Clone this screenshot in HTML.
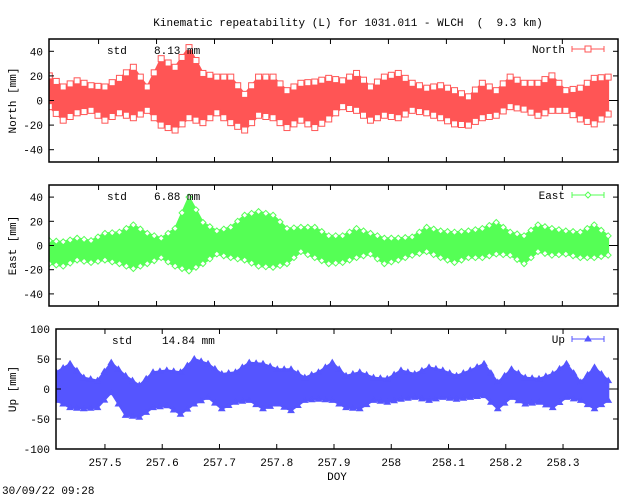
<!DOCTYPE html>
<html><head><meta charset="utf-8">
<style>
html,body{margin:0;padding:0;background:#fff;width:640px;height:496px;overflow:hidden}
svg text{font-family:"Liberation Mono","DejaVu Sans Mono",monospace;font-size:11px;fill:#000}
</style></head>
<body>
<svg id="chart" width="640" height="496" viewBox="0 0 640 496" xmlns="http://www.w3.org/2000/svg">
<defs id="defs"></defs>
<text x="348" y="26" text-anchor="middle" xml:space="preserve">Kinematic repeatability (L) for 1031.011 - WLCH  (  9.3 km)</text>
<text x="2" y="494">30/09/22 09:28</text>
<text x="337" y="480" text-anchor="middle">DOY</text>
<g id="plots"></g>
</svg>
<script>
const times=[257.415,257.439,257.463,257.487,257.511,257.536,257.560,257.584,257.608,257.632,257.656,257.680,257.704,257.728,257.752,257.776,257.801,257.825,257.849,257.873,257.897,257.921,257.945,257.969,257.993,258.017,258.041,258.066,258.090,258.114,258.138,258.162,258.186,258.210,258.234,258.258,258.282,258.306,258.331,258.355,258.379];
const northHi=[20,11,16,12,11,18,27,11,34,27,43,22,19,19,5,19,19,8,14,15,18,16,22,11,19,22,14,10,12,8,3,14,8,19,14,14,20,8,10,18,19];
const northLo=[-5,-16,-10,-8,-16,-10,-14,-8,-20,-24,-14,-18,-10,-18,-24,-12,-14,-22,-16,-22,-15,-5,-8,-16,-12,-14,-8,-10,-14,-19,-20,-14,-12,-5,-7,-12,-8,-8,-15,-19,-11];
const eastHi=[4,3,6,4,10,11,17,10,6,14,40,19,12,15,25,28,25,14,15,15,8,8,14,10,6,6,7,15,12,11,12,14,19,11,8,17,14,12,11,17,8];
const eastLo=[-15,-17,-12,-14,-12,-15,-19,-15,-10,-17,-21,-15,-7,-10,-12,-17,-18,-15,-5,-10,-15,-14,-10,-7,-15,-12,-8,-5,-10,-14,-10,-10,-7,-8,-15,-5,-8,-7,-10,-10,-8];
const upHi=[28,42,19,14,44,22,6,28,31,28,50,42,25,28,44,42,33,33,19,28,44,22,28,19,17,31,25,36,31,22,31,42,11,33,19,17,25,42,11,36,14];
const upLo=[-19,-31,-33,-31,-6,-44,-47,-31,-28,-42,-25,-14,-33,-22,-19,-33,-25,-36,-19,-17,-19,-31,-33,-19,-22,-17,-14,-19,-14,-17,-14,-11,-33,-14,-25,-22,-31,-14,-19,-33,-19];
const xTicks=[257.5,257.6,257.7,257.8,257.9,258,258.1,258.2,258.3];
const xTickLabels=["257.5","257.6","257.7","257.8","257.9","258","258.1","258.2","258.3"];
const nTicks=[40,20,0,-20,-40];
const eTicks=[40,20,0,-20,-40];
const uTicks=[100,50,0,-50,-100];
const stdValues=["8.13","6.88","14.84"];

const NS='http://www.w3.org/2000/svg';
const root=document.getElementById('plots');
const defs=document.getElementById('defs');
function mk(tag,attrs,parent){const e=document.createElementNS(NS,tag);for(const k in attrs)e.setAttribute(k,attrs[k]);(parent||root).appendChild(e);return e;}

const panels=[
 {key:'north',label:'North [mm]',left:49,right:618,top:39,bottom:162,ymin:-50,ymax:50,ticks:nTicks,hi:northHi,lo:northLo,color:'#ff5555',marker:'square',std:stdValues[0],stdX:107,numX:154,legend:'North',xlabels:false},
 {key:'east',label:'East [mm]',left:49,right:618,top:185,bottom:306,ymin:-50,ymax:50,ticks:eTicks,hi:eastHi,lo:eastLo,color:'#55ff55',marker:'diamond',std:stdValues[1],stdX:107,numX:154,legend:'East',xlabels:false},
 {key:'up',label:'Up [mm]',left:56,right:618,top:329,bottom:449,ymin:-100,ymax:100,ticks:uTicks,hi:upHi,lo:upLo,color:'#5555ff',marker:'triangle',std:stdValues[2],stdX:112,numX:162,legend:'Up',xlabels:true}
];
const X0=257.4145,X1=258.396;

function drawMarker(g,type,x,y,color){
 let m;
 if(type==='square'){m=mk('rect',{x:x-3,y:y-3,width:6,height:6,fill:'#fff',stroke:color,'stroke-width':1},g);}
 else if(type==='diamond'){m=mk('path',{d:`M${x},${y-3}L${x+3},${y}L${x},${y+3}L${x-3},${y}Z`,fill:'#fff',stroke:color,'stroke-width':1},g);}
 else {m=mk('path',{d:`M${x},${y-3}L${x+3},${y+2}L${x-3},${y+2}Z`,fill:color,stroke:color,'stroke-width':1},g);}
 
 
}

panels.forEach(p=>{
 const g=mk('g',{});
 
 
 const cp=mk('clipPath',{id:'clip-'+p.key},defs);
 mk('rect',{x:p.left,y:p.top,width:p.right-p.left,height:p.bottom-p.top},cp);
 const xs=t=>p.left+(t-X0)/(X1-X0)*(p.right-p.left);
 const ys=v=>p.bottom-(v-p.ymin)/(p.ymax-p.ymin)*(p.bottom-p.top);
 const z=mk('line',{x1:p.left,x2:p.right,y1:ys(0),y2:ys(0),stroke:'#000','stroke-width':1,'stroke-dasharray':'4,3'},g);
 
 
 const dg=mk('g',{'clip-path':'url(#clip-'+p.key+')'},g);
 
 
 let d='';
 times.forEach((t,i)=>{d+=(i?'L':'M')+xs(t).toFixed(1)+','+ys(p.hi[i]).toFixed(1);});
 for(let i=times.length-1;i>=0;i--){d+='L'+xs(times[i]).toFixed(1)+','+ys(p.lo[i]).toFixed(1);}
 d+='Z';
 const band=mk('path',{d:d,fill:p.color,stroke:p.color,'stroke-width':2,'stroke-linejoin':'round'},dg);
 
 
 times.forEach((t,i)=>{
  drawMarker(dg,p.marker,xs(t),ys(p.hi[i]),p.color);
  drawMarker(dg,p.marker,xs(t),ys(p.lo[i]),p.color);
  if(i<times.length-1){
   const tm=(t+times[i+1])/2;
   drawMarker(dg,p.marker,xs(tm),ys((p.hi[i]+p.hi[i+1])/2),p.color);
   drawMarker(dg,p.marker,xs(tm),ys((p.lo[i]+p.lo[i+1])/2),p.color);
  }
 });
 const f=mk('rect',{x:p.left,y:p.top,width:p.right-p.left,height:p.bottom-p.top,fill:'none',stroke:'#000','stroke-width':1.5},g);
 
 
 p.ticks.forEach(v=>{
  const y=ys(v);
  mk('line',{x1:p.left,x2:p.left+5,y1:y,y2:y,stroke:'#000'},g);
  mk('line',{x1:p.right-5,x2:p.right,y1:y,y2:y,stroke:'#000'},g);
  const tl=mk('text',{x:p.left-6,y:y+4,'text-anchor':'end'},g);
  tl.textContent=String(v);
  
  
 });
 xTicks.forEach((t,i)=>{
  const x=xs(t);
  mk('line',{x1:x,x2:x,y1:p.bottom-5,y2:p.bottom,stroke:'#000'},g);
  mk('line',{x1:x,x2:x,y1:p.top,y2:p.top+5,stroke:'#000'},g);
  if(p.xlabels){
   const xl=mk('text',{x:x,y:p.bottom+17,'text-anchor':'middle'},g);
   xl.textContent=xTickLabels[i];
   
   
  }
 });
 const cy=(p.top+p.bottom)/2;
 const yt=mk('text',{x:16,y:cy,'text-anchor':'middle',transform:`rotate(-90 16 ${cy})`},g);
 yt.textContent=p.label;
 
 
 const s1=mk('text',{x:p.stdX,y:p.top+15},g);
 s1.textContent='std';
 
 
 const s2=mk('text',{x:p.numX,y:p.top+15},g);
 s2.textContent=p.std+' mm';
 
 
 const lg=mk('g',{},g);
 
 
 const ly=p.top+10;
 const lt=mk('text',{x:565,y:ly+4,'text-anchor':'end'},lg);
 lt.textContent=p.legend;
 mk('line',{x1:572,x2:604,y1:ly,y2:ly,stroke:p.color,'stroke-width':1},lg);
 mk('line',{x1:572,x2:572,y1:ly-3,y2:ly+3,stroke:p.color},lg);
 mk('line',{x1:604,x2:604,y1:ly-3,y2:ly+3,stroke:p.color},lg);
 drawMarker(lg,p.marker,588,ly,p.color);
});
</script>
</body></html>
